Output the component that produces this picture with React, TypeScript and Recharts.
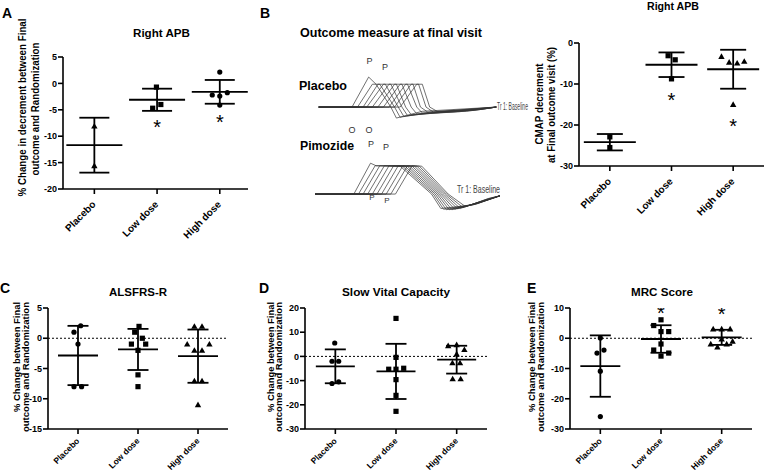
import React from 'react';
import { ScatterChart, Scatter, XAxis, YAxis, ErrorBar, ReferenceLine, LineChart, Line } from 'recharts';

const FONT = '"Liberation Sans", Arial, Helvetica, sans-serif';

const categories = ['Placebo', 'Low dose', 'High dose'];

// ---- Panel A: Right APB, % change in decrement
const aPlacebo = [-8.1, -15.6];
const aPlaceboJitter = [0, 0];
const aLow = [-0.7, -4.0, -4.7];
const aLowJitter = [-0.01, 0.06, -0.07];
const aHigh = [2.15, -2.2, -2.4, -1.75, -4.1];
const aHighJitter = [0, -0.12, 0, 0.12, 0];
const aMean = [-11.7, -3.1, -1.6];
const aSd = [5.2, 2.1, 2.25];
const aStars = [[1, -7.45], [2, -6.5]];
const aTicks = [-20, -15, -10, -5, 0, 5];

// ---- Panel B (right): CMAP decrement at final outcome visit
const bPlacebo = [-22.9, -25.5];
const bPlaceboJitter = [0, 0];
const bLow = [-3.1, -4.1, -8.75];
const bLowJitter = [-0.055, 0.06, 0];
const bHigh = [-3.3, -4.7, -4.9, -4.5, -15.0];
const bHighJitter = [-0.19, -0.065, 0.065, 0.18, 0];
const bMean = [-24.2, -5.3, -6.4];
const bSd = [2.0, 3.0, 4.75];
const bStars = [[1, -12.7], [2, -19.2]];
const bTicks = [-30, -20, -10, 0];

// ---- Panel C: ALSFRS-R
const cPlacebo = [2.07, 1.0, -0.97, -8.0, -8.0];
const cPlaceboJitter = [0.045, -0.067, 0, -0.067, 0.06];
const cLow = [1.96, 1.0, 0.0, -0.97, -0.97, -2.0, -6.05, -8.0];
const cLowJitter = [0.017, -0.055, 0.072, -0.11, 0.128, 0, 0, 0];
const cHigh = [1.96, 1.96, -0.97, -2.0, -2.0, -0.97, -7.04, -7.04, -11.0];
const cHighJitter = [-0.06, 0.067, -0.18, -0.06, 0.067, 0.19, -0.06, 0.067, 0];
const cMean = [-2.85, -1.85, -2.96];
const cSd = [4.9, 3.4, 4.4];
const cTicks = [-15, -10, -5, 0, 5];

// ---- Panel D: Slow Vital Capacity
const dPlacebo = [5.53, -2.0, -2.0, -11.2, -10.5];
const dPlaceboJitter = [-0.01, -0.055, 0.055, -0.055, 0.055];
const dLow = [15.7, -0.4, -5.3, -5.3, -4.9, -9.6, -16.1, -22.7];
const dLowJitter = [0, 0, -0.12, 0, 0.127, 0, 0, 0];
const dHigh = [4.4, 4.8, 2.8, 1.0, -2.7, -2.7, -9.3, -9.3];
const dHighJitter = [-0.14, 0, 0.127, 0, -0.07, 0.055, -0.066, 0.066];
const dMean = [-4.1, -6.2, -1.35];
const dSd = [7.0, 11.4, 5.75];
const dTicks = [-30, -20, -10, 0, 10, 20];

// ---- Panel E: MRC Score
const ePlacebo = [0.1, -4.9, -3.9, -10.9, -25.9];
const ePlaceboJitter = [0, -0.055, 0.06, 0, 0];
const eLow = [6.1, 4.2, 2.2, 2.2, -1.9, -3.9, -4.9, -5.9];
const eLowJitter = [0, -0.12, 0, 0.127, 0, -0.12, 0.127, 0];
const eHigh = [3.05, 3.05, 3.05, -0.25, -1.0, -1.9, -1.9, -2.9];
const eHighJitter = [-0.14, 0, 0.14, 0, 0.18, -0.18, 0.083, -0.07];
const eMean = [-9.2, -0.25, 0.3];
const eSd = [10.15, 4.55, 2.5];
const eStars = [[1, 10.0], [2, 9.45]];
const eTicks = [-30, -20, -10, 0, 10];

// ---- Panel B (left): CMAP traces [time, amplitude]
const placeboTraces = [
  [[2, 0], [20, 0], [29, 3.55], [33, 2.7], [41, 0], [44, -1.3], [58, -0.5], [98, 0]],
  [[2, 0], [23, 0], [31, 2.7], [35, 2.7], [43, 0], [46, -1.2], [62, -0.6], [98, 0]],
  [[2, 0], [26, 0], [34, 2.7], [38, 2.7], [45, 0], [48, -1.1], [66, -0.6], [98, 0]],
  [[2, 0], [28, 0], [37, 2.7], [41, 2.7], [47, 0], [50, -1.0], [70, -0.6], [98, 0]],
  [[2, 0], [31, 0], [40, 2.7], [44, 2.7], [49, 0], [52, -0.9], [74, -0.6], [98, 0]],
  [[2, 0], [34, 0], [43, 2.7], [47, 2.7], [52, 0], [55, -0.8], [78, -0.55], [98, 0]],
  [[2, 0], [37, 0], [46, 2.7], [50, 2.7], [55, 0], [58, -0.7], [82, -0.5], [98, 0]],
  [[2, 0], [40, 0], [49, 2.7], [53, 2.7], [57, 0], [61, -0.6], [86, -0.4], [98, 0]],
  [[2, 0], [43, 0], [52, 2.7], [56, 2.7], [60, 0], [64, -0.6], [89, -0.3], [98, 0]],
  [[2, 0], [46, 0], [55, 2.7], [58, 2.7], [62, 0], [66, -0.5], [92, -0.2], [98, 0]],
];
const pimozideTraces = [
  [[0, 0], [21, 0], [30, 3.65], [33, 3.35], [46, 3.3], [63, 0], [68, -1.7], [85, -1.3], [100, -0.2]],
  [[0, 0], [23.5, 0], [32.5, 3.35], [47.3, 3.3], [64, 0], [69.5, -1.8], [86, -1.2], [100, -0.2]],
  [[0, 0], [26, 0], [35, 3.35], [48.6, 3.3], [65, 0], [71, -1.85], [87, -1.2], [100, -0.2]],
  [[0, 0], [28.5, 0], [37.5, 3.35], [49.9, 3.3], [66, 0], [72.5, -1.85], [88, -1.1], [100, -0.2]],
  [[0, 0], [31, 0], [40, 3.35], [51.2, 3.3], [67, 0], [74, -1.85], [89, -1.0], [100, -0.2]],
  [[0, 0], [33.5, 0], [42.5, 3.35], [52.5, 3.3], [68, 0], [75.5, -1.8], [90, -0.9], [100, -0.2]],
  [[0, 0], [36, 0], [45, 3.35], [53.8, 3.3], [69, 0], [77, -1.75], [91, -0.8], [100, -0.2]],
  [[0, 0], [38.5, 0], [47.5, 3.35], [55.1, 3.3], [70, 0], [78.5, -1.7], [92, -0.7], [100, -0.2]],
  [[0, 0], [41, 0], [50, 3.35], [56.4, 3.3], [71, 0], [80, -1.6], [93, -0.6], [100, -0.2]],
  [[0, 0], [43.5, 0], [52.5, 3.35], [57.7, 3.3], [72, 0], [81.5, -1.5], [94, -0.5], [100, -0.2]],
];

const AXIS = { stroke: '#000', strokeWidth: 1.6 };

const markerFn = (m: string) => (p: any) => {
  const { cx, cy } = p;
  if (cx == null || cy == null) return <g />;
  if (m === 'circle') return <circle cx={cx} cy={cy} r={2.6} fill="#000" />;
  if (m === 'square') return <rect x={cx - 2.6} y={cy - 2.6} width={5.2} height={5.2} fill="#000" />;
  return <polygon points={`${cx},${cy - 3.2} ${cx - 3.2},${cy + 2.4} ${cx + 3.2},${cy + 2.4}`} fill="#000" />;
};

const meanShape = (hw: number) => (p: any) => (
  <line x1={p.cx - hw} x2={p.cx + hw} y1={p.cy} y2={p.cy} stroke="#000" strokeWidth={1.8} />
);

const starShape = (p: any) => (
  <text x={p.cx} y={p.cy + 11.5} textAnchor="middle" fontSize={20} fontFamily={FONT} fill="#000">*</text>
);

const CatTick = (props: any) => {
  const { x, y, payload, fs, dy } = props;
  const ax = x + 2;
  const ay = y + dy;
  return (
    <text x={ax} y={ay} transform={`rotate(-45 ${ax} ${ay})`} textAnchor="end" fontSize={fs} fontWeight={700} fontFamily={FONT} fill="#000">
      {categories[Math.round(payload.value)]}
    </text>
  );
};

type Group = { values: number[]; jitter: number[]; marker: string };

function Panel(props: {
  box: number[]; yDomain: number[]; yTicks: number[]; xDomain: number[];
  groups: Group[]; means: number[]; sds: number[]; stars: number[][];
  meanHalf: number; capHalf: number; zeroLine: boolean; catFont: number; catDy: number;
}) {
  const { box, yDomain, yTicks, xDomain, groups, means, sds, stars, meanHalf, capHalf, zeroLine, catFont, catDy } = props;
  const yw = 34, mt = 12, mr = 4, xh = 62;
  const [px0, py0, px1, py1] = box;
  const width = px1 - px0 + yw + mr;
  const height = py1 - py0 + mt + xh;
  return (
    <div style={{ position: 'absolute', left: px0 - yw, top: py0 - mt }}>
      <ScatterChart width={width} height={height} margin={{ top: mt, right: mr, bottom: 0, left: 0 }}>
        <XAxis type="number" dataKey="x" domain={xDomain} ticks={[0, 1, 2]} allowDataOverflow height={xh}
          tickSize={5} tickMargin={0} interval={0} axisLine={AXIS} tickLine={AXIS}
          tick={(p: any) => <CatTick {...p} fs={catFont} dy={catDy} />} />
        <YAxis type="number" dataKey="y" domain={yDomain} ticks={yTicks} allowDataOverflow width={yw}
          tickSize={5} tickMargin={1} interval={0} axisLine={AXIS} tickLine={AXIS}
          tick={{ fill: '#000', fontSize: 9, fontWeight: 700, fontFamily: FONT }} />
        {zeroLine && <ReferenceLine y={0} stroke="#000" strokeWidth={1} strokeDasharray="2 2" />}
        {groups.map((g, i) => (
          <Scatter key={i} data={g.values.map((v, j) => ({ x: i + g.jitter[j], y: v }))}
            shape={markerFn(g.marker)} isAnimationActive={false} />
        ))}
        <Scatter data={means.map((m, i) => ({ x: i, y: m, sd: sds[i] }))} shape={meanShape(meanHalf)} isAnimationActive={false}>
          <ErrorBar dataKey="sd" direction="y" width={capHalf} stroke="#000" strokeWidth={1.8} />
        </Scatter>
        {stars.length > 0 && (
          <Scatter data={stars.map(([x, y]) => ({ x, y }))} shape={starShape} isAnimationActive={false} />
        )}
      </ScatterChart>
    </div>
  );
}

function Waveform({ left, top, traces }: { left: number; top: number; traces: number[][][] }) {
  return (
    <div style={{ position: 'absolute', left, top }}>
      <LineChart width={185} height={55} margin={{ top: 0, right: 0, bottom: 0, left: 0 }}>
        <XAxis type="number" dataKey="t" domain={[0, 100]} hide allowDataOverflow />
        <YAxis type="number" domain={[-2, 4.5]} hide allowDataOverflow />
        {traces.map((tr, i) => (
          <Line key={i} data={tr.map(([t, a]) => ({ t, a }))} dataKey="a" stroke="#333" strokeWidth={0.7}
            dot={false} isAnimationActive={false} type="linear" />
        ))}
      </LineChart>
    </div>
  );
}

const T = (p: any) => {
  const { x, y, children, size = 11.8, len, anchor = 'start', rot, weight = 700, color = '#000', family = FONT } = p;
  return (
    <text x={x} y={y} fontSize={size} fontWeight={weight} fontFamily={family} fill={color} textAnchor={anchor}
      textLength={len} lengthAdjust={len ? 'spacingAndGlyphs' : undefined}
      transform={rot ? `rotate(${rot} ${x} ${y})` : undefined}>{children}</text>
  );
};

export default function App() {
  return (
    <div style={{ position: 'absolute', left: 0, top: 0, width: 764, height: 472, overflow: 'hidden', background: '#fff' }}>
      <Panel box={[63, 57, 248, 189]} yDomain={[-20, 5]} yTicks={aTicks} xDomain={[-0.5, 2.45]}
        groups={[
          { values: aPlacebo, jitter: aPlaceboJitter, marker: 'triangle' },
          { values: aLow, jitter: aLowJitter, marker: 'square' },
          { values: aHigh, jitter: aHighJitter, marker: 'circle' },
        ]}
        means={aMean} sds={aSd} stars={aStars} meanHalf={28} capHalf={15} zeroLine={false} catFont={10} catDy={11} />
      <Panel box={[579, 43, 764, 166]} yDomain={[-30, 0]} yTicks={bTicks} xDomain={[-0.5, 2.5]}
        groups={[
          { values: bPlacebo, jitter: bPlaceboJitter, marker: 'square' },
          { values: bLow, jitter: bLowJitter, marker: 'square' },
          { values: bHigh, jitter: bHighJitter, marker: 'triangle' },
        ]}
        means={bMean} sds={bSd} stars={bStars} meanHalf={26} capHalf={13} zeroLine={false} catFont={10} catDy={11} />
      <Panel box={[48, 308, 228, 429]} yDomain={[-15, 5]} yTicks={cTicks} xDomain={[-0.5, 2.5]}
        groups={[
          { values: cPlacebo, jitter: cPlaceboJitter, marker: 'circle' },
          { values: cLow, jitter: cLowJitter, marker: 'square' },
          { values: cHigh, jitter: cHighJitter, marker: 'triangle' },
        ]}
        means={cMean} sds={cSd} stars={[]} meanHalf={20} capHalf={10.5} zeroLine={true} catFont={8.5} catDy={7.5} />
      <Panel box={[305, 308, 487, 429]} yDomain={[-30, 20]} yTicks={dTicks} xDomain={[-0.5, 2.5]}
        groups={[
          { values: dPlacebo, jitter: dPlaceboJitter, marker: 'circle' },
          { values: dLow, jitter: dLowJitter, marker: 'square' },
          { values: dHigh, jitter: dHighJitter, marker: 'triangle' },
        ]}
        means={dMean} sds={dSd} stars={[]} meanHalf={19.5} capHalf={10.5} zeroLine={true} catFont={8.5} catDy={7.5} />
      <Panel box={[570, 308, 752, 429]} yDomain={[-30, 10]} yTicks={eTicks} xDomain={[-0.5, 2.5]}
        groups={[
          { values: ePlacebo, jitter: ePlaceboJitter, marker: 'circle' },
          { values: eLow, jitter: eLowJitter, marker: 'square' },
          { values: eHigh, jitter: eHighJitter, marker: 'triangle' },
        ]}
        means={eMean} sds={eSd} stars={eStars} meanHalf={20} capHalf={10.5} zeroLine={true} catFont={8.5} catDy={7.5} />

      <Waveform left={315} top={68.6} traces={placeboTraces} />
      <Waveform left={315} top={156.2} traces={pimozideTraces} />

      <svg width={764} height={472} style={{ position: 'absolute', left: 0, top: 0, pointerEvents: 'none' }}>
        {/* panel letters */}
        <T x={2} y={18} size={14}>A</T>
        <T x={260} y={18} size={14}>B</T>
        <T x={0} y={293} size={14}>C</T>
        <T x={259} y={293} size={14}>D</T>
        <T x={527} y={293} size={14}>E</T>

        {/* titles */}
        <T x={161.5} y={37} anchor="middle" len={57}>Right APB</T>
        <T x={673} y={10} anchor="middle" size={10} len={52}>Right APB</T>
        <T x={300} y={36.5} size={12.5} len={182}>Outcome measure at final visit</T>
        <T x={299} y={90} size={12.5} len={48}>Placebo</T>
        <T x={300} y={150} size={12.5} len={54}>Pimozide</T>
        <T x={138} y={296} anchor="middle" len={58}>ALSFRS-R</T>
        <T x={396} y={296} anchor="middle" len={108}>Slow Vital Capacity</T>
        <T x={662} y={296} anchor="middle" len={62}>MRC Score</T>

        {/* y-axis labels */}
        <T x={26} y={107.5} anchor="middle" rot={-90} size={10} len={178}>% Change in decrement between Final</T>
        <T x={38.5} y={109} anchor="middle" rot={-90} size={10} len={133}>outcome and Randomization</T>
        <T x={542.5} y={104} anchor="middle" rot={-90} size={10} len={81}>CMAP decrement</T>
        <T x={554.5} y={105} anchor="middle" rot={-90} size={10} len={116}>at Final outcome visit (%)</T>
        <T x={20} y={302} anchor="end" rot={-90} size={9.5} len={110}>% Change between Final</T>
        <T x={28.5} y={302} anchor="end" rot={-90} size={9.5} len={130}>outcome and Randomization</T>
        <T x={273.5} y={302} anchor="end" rot={-90} size={9.5} len={110}>% Change between Final</T>
        <T x={282} y={302} anchor="end" rot={-90} size={9.5} len={130}>outcome and Randomization</T>
        <T x={535} y={302} anchor="end" rot={-90} size={9.5} len={110}>% Change between Final</T>
        <T x={543.5} y={302} anchor="end" rot={-90} size={9.5} len={130}>outcome and Randomization</T>

        {/* waveform annotations */}
        <T x={369.5} y={64} anchor="middle" size={9} weight={400} color="#333">P</T>
        <T x={385} y={70} anchor="middle" size={9} weight={400} color="#333">P</T>
        <T x={352} y={133} anchor="middle" size={9} weight={400} color="#333">O</T>
        <T x={369} y={133} anchor="middle" size={9} weight={400} color="#333">O</T>
        <T x={371} y={147} anchor="middle" size={9} weight={400} color="#333">P</T>
        <T x={386} y={150} anchor="middle" size={9} weight={400} color="#333">P</T>
        <T x={372} y={200} anchor="middle" size={8} weight={400} color="#333">P</T>
        <T x={387} y={203} anchor="middle" size={8} weight={400} color="#333">P</T>
        <T x={497} y={110} size={11} weight={400} color="#444" len={31}>Tr 1: Baseline</T>
        <T x={457} y={193} size={11} weight={400} color="#444" len={43}>Tr 1: Baseline</T>
      </svg>
    </div>
  );
}
